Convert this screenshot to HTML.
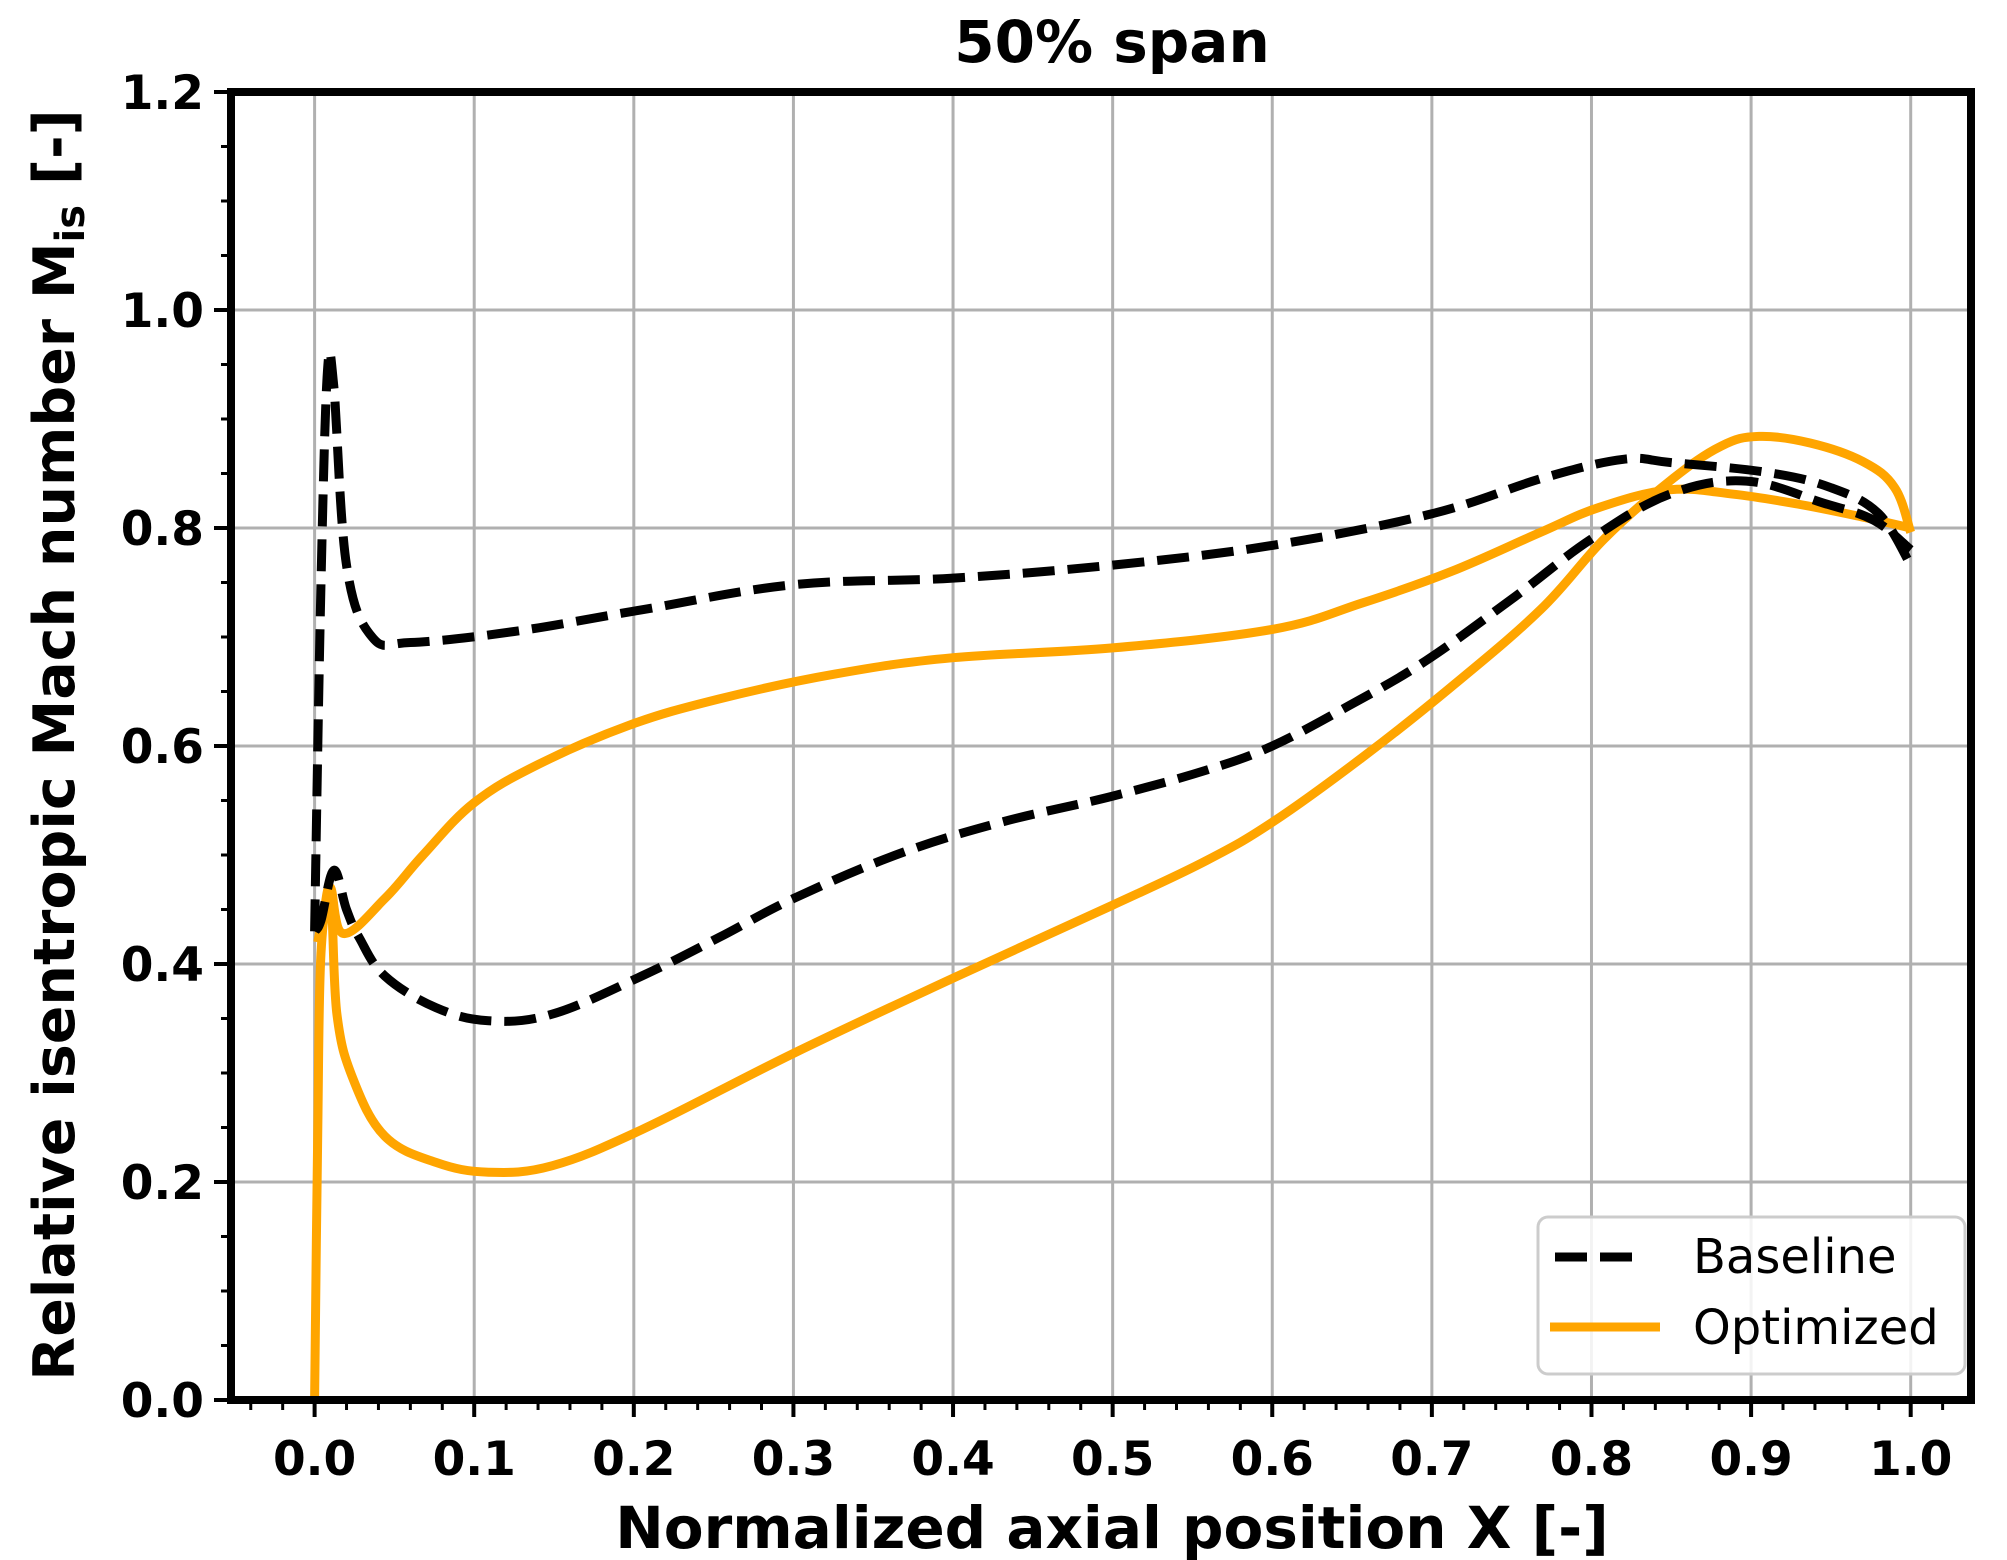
<!DOCTYPE html>
<html><head><meta charset="utf-8"><style>
html,body{margin:0;padding:0;background:#fff}
svg{display:block}
text{font-family:"DejaVu Sans","Liberation Sans",sans-serif}
</style></head><body>
<svg id="chart" width="2007" height="1560" viewBox="0 0 2007 1560">
<text x="1112" y="62" text-anchor="middle" font-size="58" font-weight="bold">50% span</text>
<g id="grid"></g>
<g id="series"></g>
<g id="axes"></g>
<text x="1112" y="1548" text-anchor="middle" font-size="58" font-weight="bold">Normalized axial position X [-]</text>
<text transform="translate(74,745) rotate(-90)" text-anchor="middle" font-size="57" font-weight="bold">Relative isentropic Mach number M<tspan font-size="40" dy="10">is</tspan><tspan dy="-10"> [-]</tspan></text>
<g>
<rect x="1538" y="1217" width="427" height="157" rx="10" fill="#fff" fill-opacity="0.85" stroke="#cccccc" stroke-width="3"/>
<line x1="1555" y1="1257" x2="1645" y2="1257" stroke="#000" stroke-width="9" stroke-dasharray="32,13"/>
<text x="1693" y="1273" font-size="48">Baseline</text>
<line x1="1550" y1="1327" x2="1660" y2="1327" stroke="#ffa500" stroke-width="9"/>
<text x="1693" y="1344" font-size="48">Optimized</text>
</g>
</svg>
<script>
const xTicks=[0,0.1,0.2,0.3,0.4,0.5,0.6,0.7,0.8,0.9,1.0];
const xTickLabels=["0.0","0.1","0.2","0.3","0.4","0.5","0.6","0.7","0.8","0.9","1.0"];
const yTicks=[0,0.2,0.4,0.6,0.8,1.0,1.2];
const yTickLabels=["0.0","0.2","0.4","0.6","0.8","1.0","1.2"];
const baseUpperX=[0,0.004,0.008,0.012,0.02,0.036,0.06,0.125,0.205,0.30,0.40,0.5,0.6,0.7,0.77,0.82,0.85,0.91,0.95,0.98,1.0];
const baseUpperY=[0.43,0.75,0.943,0.93,0.766,0.70,0.695,0.705,0.725,0.748,0.754,0.766,0.784,0.813,0.846,0.863,0.86,0.851,0.837,0.813,0.766];
const baseLowerX=[0,0.004,0.012,0.02,0.028,0.044,0.076,0.109,0.149,0.205,0.253,0.30,0.366,0.43,0.5,0.559,0.6,0.648,0.696,0.752,0.80,0.849,0.897,0.945,0.977,1.0];
const baseLowerY=[0.43,0.44,0.486,0.45,0.424,0.389,0.36,0.348,0.354,0.389,0.424,0.46,0.501,0.53,0.554,0.578,0.60,0.637,0.678,0.737,0.79,0.831,0.843,0.823,0.807,0.78];
const optUpperX=[0.002,0.006,0.01,0.018,0.044,0.068,0.1,0.14,0.197,0.253,0.326,0.40,0.5,0.6,0.656,0.712,0.768,0.805,0.849,0.889,0.929,0.97,1.0];
const optUpperY=[0.42,0.45,0.47,0.428,0.46,0.50,0.548,0.583,0.619,0.643,0.666,0.681,0.69,0.707,0.731,0.76,0.796,0.819,0.835,0.831,0.822,0.81,0.80];
const optLowerX=[0,0.002,0.004,0.01,0.014,0.024,0.044,0.076,0.109,0.149,0.205,0.30,0.40,0.5,0.559,0.6,0.656,0.712,0.768,0.808,0.849,0.881,0.905,0.937,0.97,0.99,1.0];
const optLowerY=[0,0.25,0.41,0.46,0.354,0.295,0.242,0.218,0.209,0.215,0.248,0.318,0.387,0.454,0.495,0.53,0.589,0.654,0.725,0.79,0.843,0.875,0.884,0.878,0.861,0.837,0.796];

const L=231,R=1971,T=92,B=1400;
const X0=314.6,X1=1910.7;
const sx=v=>X0+(X1-X0)*v;
const sy=v=>B-(B-T)*v/1.2;
const NS="http://www.w3.org/2000/svg";
function mk(tag,attrs,parent){const e=document.createElementNS(NS,tag);for(const k in attrs)e.setAttribute(k,attrs[k]);parent.appendChild(e);return e;}
const grid=document.getElementById('grid'),axes=document.getElementById('axes'),series=document.getElementById('series');
xTicks.forEach((v,i)=>{
  const g=mk('line',{x1:sx(v),x2:sx(v),y1:T,y2:B,stroke:'#b0b0b0','stroke-width':3},grid);
  
  
  const t=mk('line',{x1:sx(v),x2:sx(v),y1:B,y2:B+17,stroke:'#000','stroke-width':4},axes);
  
  
  const l=mk('text',{x:sx(v),y:1475,'text-anchor':'middle','font-size':47,'font-weight':'bold'},axes);
  l.textContent=xTickLabels[i];
  
  
});
for(let k=-2;k<=52;k++){const v=k*0.02;if(sx(v)<L||sx(v)>R)continue;if(k%5===0)continue;
  const m=mk('line',{x1:sx(v),x2:sx(v),y1:B,y2:B+10,stroke:'#000','stroke-width':3},axes);
  
  }
yTicks.forEach((v,i)=>{
  if(v>0&&v<1.2){const g=mk('line',{x1:L,x2:R,y1:sy(v),y2:sy(v),stroke:'#b0b0b0','stroke-width':3},grid);
  
  }
  const t=mk('line',{x1:L-17,x2:L,y1:sy(v),y2:sy(v),stroke:'#000','stroke-width':4},axes);
  
  
  const l=mk('text',{x:204,y:sy(v)+17,'text-anchor':'end','font-size':47,'font-weight':'bold'},axes);
  l.textContent=yTickLabels[i];
  
  
});
for(let k=1;k<24;k++){if(k%4===0)continue;const v=k*0.05;
  const m=mk('line',{x1:L-10,x2:L,y1:sy(v),y2:sy(v),stroke:'#000','stroke-width':3},axes);
  
  }
const fr=mk('rect',{x:L,y:T,width:R-L,height:B-T,fill:'none',stroke:'#000','stroke-width':8},axes);


function smoothPath(xs,ys){
  const P=xs.map((x,i)=>[sx(x),sy(ys[i])]);
  let d='M'+P[0][0].toFixed(1)+','+P[0][1].toFixed(1);
  for(let i=0;i<P.length-1;i++){
    const p0=P[Math.max(0,i-1)],p1=P[i],p2=P[i+1],p3=P[Math.min(P.length-1,i+2)];
    const t=0.18;
    const c1=[p1[0]+(p2[0]-p0[0])*t,p1[1]+(p2[1]-p0[1])*t];
    const c2=[p2[0]-(p3[0]-p1[0])*t,p2[1]-(p3[1]-p1[1])*t];
    d+=' C'+c1.map(v=>v.toFixed(1)).join(',')+' '+c2.map(v=>v.toFixed(1)).join(',')+' '+p2[0].toFixed(1)+','+p2[1].toFixed(1);
  }
  return d;
}
const defs=[[optUpperX,optUpperY,'#ffa500',null,'optimized-suction-line'],[optLowerX,optLowerY,'#ffa500',null,'optimized-pressure-line'],
[baseUpperX,baseUpperY,'#000','32,13','baseline-suction-line'],[baseLowerX,baseLowerY,'#000','32,13','baseline-pressure-line']];
defs.forEach(d=>{
  const a={d:smoothPath(d[0],d[1]),fill:'none',stroke:d[2],'stroke-width':9,'stroke-linejoin':'round'};
  if(d[3])a['stroke-dasharray']=d[3];
  const p=mk('path',a,series);
  
  
});
</script>
</body></html>
